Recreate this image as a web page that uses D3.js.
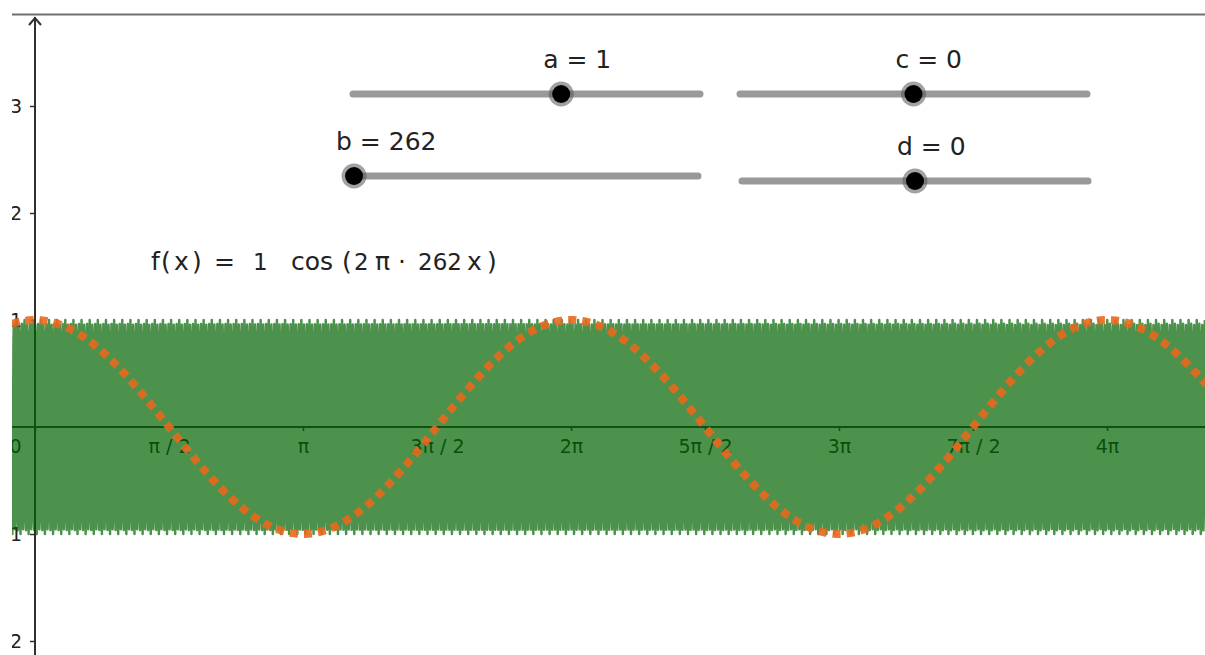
<!DOCTYPE html>
<html lang="en">

<head>
	<meta charset="UTF-8">
	<title>cos sliders</title>
	<script src="https://cdn.jsdelivr.net/npm/d3@7/dist/d3.min.js" charset="UTF-8"></script>
	<style>
		body { margin: 0; background: #fff; }
		svg { display: block; font-family: "DejaVu Sans", sans-serif; }
	</style>
</head>

<body>
	<div id="chart"></div>

	<script type="text/javascript">
	// slider values as shown
	let sliderNames = ['a', 'b', 'c', 'd'];
	let sliderValues = [1, 262, 0, 0];
	let sliderMin = [-5, 260, -5, -5];
	let sliderMax = [5, 600, 5, 5];

	// tick labels
	let xTickLabels = ['0', 'π / 2', 'π', '3π / 2', '2π', '5π / 2', '3π', '7π / 2', '4π'];
	let xTickValues = [0, Math.PI / 2, Math.PI, 3 * Math.PI / 2, 2 * Math.PI, 5 * Math.PI / 2, 3 * Math.PI, 7 * Math.PI / 2, 4 * Math.PI];
	let yTickLabels = ['-2', '-1', '1', '2', '3'];
	let yTickValues = [-2, -1, 1, 2, 3];

	let width = 1205,
		height = 655;

	let svg = d3.select('#chart')
		.append('svg')
		.attr('width', width)
		.attr('height', height);

	// 0 at px 35, 4π at px 1107
	let x = d3.scaleLinear().domain([0, 4 * Math.PI]).range([35, 1107]);
	let y = d3.scaleLinear().domain([0, 1]).range([427, 320]);

	let left = 12;
	let xMin = x.invert(left),
		xMax = x.invert(width);

	svg.append('clipPath').attr('id', 'view')
		.append('rect').attr('x', left).attr('y', 0).attr('width', width - left).attr('height', height);

	let g = svg.append('g').attr('clip-path', 'url(#view)');

	// top border
	g.append('line')
		.attr('x1', left).attr('x2', width)
		.attr('y1', 14.5).attr('y2', 14.5)
		.attr('stroke', '#707070').attr('stroke-width', 2);

	// axes
	let axisColor = '#303030';
	let xAxis = d3.axisBottom(x)
		.tickValues(xTickValues)
		.tickFormat((d, i) => xTickLabels[i])
		.tickSize(4)
		.tickPadding(9)
		.tickSizeOuter(0);
	let gx = g.append('g').attr('transform', 'translate(0,' + y(0) + ')').call(xAxis);
	gx.select('.domain').remove();
	gx.selectAll('line').attr('stroke', axisColor).attr('stroke-width', 1.5);
	gx.selectAll('text').attr('fill', '#222').attr('font-size', 19)
		.attr('font-family', '"DejaVu Sans", sans-serif');
	gx.selectAll('text').filter((d, i) => i == 0).attr('text-anchor', 'end').attr('dx', -14);

	g.append('line')
		.attr('x1', left).attr('x2', width)
		.attr('y1', y(0)).attr('y2', y(0))
		.attr('stroke', axisColor).attr('stroke-width', 2);

	let yAxis = d3.axisLeft(y)
		.tickValues(yTickValues)
		.tickFormat((d, i) => yTickLabels[i])
		.tickSize(5)
		.tickPadding(8)
		.tickSizeOuter(0);
	let gy = g.append('g').attr('transform', 'translate(' + x(0) + ',0)').call(yAxis);
	gy.select('.domain').remove();
	gy.selectAll('line').attr('stroke', axisColor).attr('stroke-width', 1.5);
	gy.selectAll('text').attr('fill', '#222').attr('font-size', 19)
		.attr('font-family', '"DejaVu Sans", sans-serif');

	g.append('line')
		.attr('x1', x(0)).attr('x2', x(0))
		.attr('y1', 17).attr('y2', height)
		.attr('stroke', axisColor).attr('stroke-width', 2);
	g.append('path')
		.attr('d', 'M' + (x(0) - 6) + ',25 L' + x(0) + ',18 L' + (x(0) + 6) + ',25')
		.attr('fill', 'none').attr('stroke', axisColor).attr('stroke-width', 2);

	// f(x) = a cos(2π b x + c) + d, finely sampled
	let a = sliderValues[0], b = sliderValues[1], c = sliderValues[2], dd = sliderValues[3];
	let step = x.invert(0.37) - x.invert(0);
	let fPts = d3.range(xMin, xMax, step).map(t => [t, a * Math.cos(2 * Math.PI * b * t + c) + dd]);
	let line = d3.line().x(p => x(p[0])).y(p => y(p[1]));

	g.append('path')
		.datum(fPts)
		.attr('d', line)
		.attr('fill', 'none')
		.attr('stroke', 'rgb(0,100,0)')
		.attr('stroke-opacity', 0.7)
		.attr('stroke-width', 2.5)
		.attr('stroke-linejoin', 'round');

	// reference curve cos(x)
	let refPts = d3.range(xMin, xMax + 0.02, 0.02).map(t => [t, Math.cos(t)]);
	g.append('path')
		.datum(refPts)
		.attr('d', line)
		.attr('fill', 'none')
		.attr('stroke', 'rgb(232,105,30)')
		.attr('stroke-opacity', 0.9)
		.attr('stroke-width', 8)
		.attr('stroke-dasharray', '8,6');

	// formula, glyph by glyph
	let formula = [['f', 151], ['(', 161], ['x', 174], [')', 192], ['=', 214], ['1', 253], ['cos', 291],
		['(', 342], ['2', 354], ['π', 375], ['·', 398], ['262', 418], ['x', 467], [')', 487]];
	svg.append('text')
		.attr('y', 270)
		.attr('font-size', 25)
		.attr('fill', '#222')
		.selectAll('tspan')
		.data(formula)
		.enter().append('tspan')
		.attr('x', d => d[1])
		.attr('font-size', d => /\d/.test(d[0]) ? 23 : 25)
		.text(d => d[0]);

	// sliders
	let sliderTrack = [[353, 700, 94], [352, 698, 176], [740, 1087, 94], [742, 1088, 181]];
	sliderNames.forEach((name, i) => {
		let sx = d3.scaleLinear().domain([sliderMin[i], sliderMax[i]]).range([sliderTrack[i][0], sliderTrack[i][1]]);
		let ty = sliderTrack[i][2];
		let kx = sx(sliderValues[i]);
		svg.append('line')
			.attr('x1', sx.range()[0]).attr('x2', sx.range()[1])
			.attr('y1', ty).attr('y2', ty)
			.attr('stroke', '#999').attr('stroke-width', 7).attr('stroke-linecap', 'round');
		svg.append('circle').attr('cx', kx).attr('cy', ty).attr('r', 12.5)
			.attr('fill', '#555').attr('fill-opacity', 0.55);
		svg.append('circle').attr('cx', kx).attr('cy', ty).attr('r', 9)
			.attr('fill', '#000');
		svg.append('text')
			.attr('x', kx - 18).attr('y', ty - 26)
			.attr('font-size', 25)
			.attr('fill', '#222')
			.text(name + ' = ' + sliderValues[i]);
	});
	</script>
</body>

</html>
